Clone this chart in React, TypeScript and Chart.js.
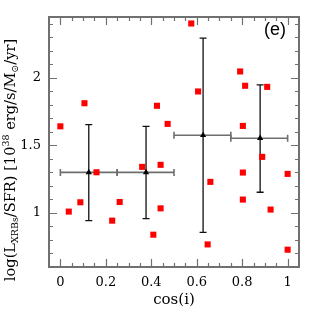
import React, { useEffect, useRef } from 'react';
import { Chart, registerables } from 'chart.js';

Chart.register(...registerables);

// Individual galaxies
const cosI = [0.0, 0.106, 0.425, 0.576, 0.791, 0.813, 0.91, 0.606, 0.472, 0.803, 0.888, 0.037, 0.088, 0.159, 0.228, 0.261, 0.36, 0.409, 0.441, 0.441, 0.66, 0.648, 0.803, 0.803, 0.925, 1.0, 1.0];
const logL = [1.641, 1.812, 1.793, 2.402, 2.047, 1.941, 1.933, 1.899, 1.659, 1.644, 1.415, 1.01, 1.079, 1.301, 0.943, 1.081, 1.341, 0.839, 1.356, 1.034, 1.23, 0.767, 1.299, 1.099, 1.025, 1.289, 0.728];

// Binned means
const binCenter = [0.125, 0.377, 0.628, 0.879];
const binLeft = [0.0, 0.25, 0.5, 0.75];
const binRight = [0.25, 0.5, 0.75, 1.0];
const binMean = [1.3, 1.3, 1.575, 1.553];
const binLow = [0.943, 0.958, 0.856, 1.153];
const binHigh = [1.654, 1.641, 2.293, 1.948];

const xTicks = [0, 0.2, 0.4, 0.6, 0.8, 1];
const yTicks = [1, 1.5, 2];

const panelLabel = '(e)';
const xTitle = 'cos(i)';
const yTitleParts: { t: string; s: 'n' | 'sub' | 'sup' }[] = [
  { t: 'log(L', s: 'n' },
  { t: 'XRBs', s: 'sub' },
  { t: '/SFR) [10', s: 'n' },
  { t: '38', s: 'sup' },
  { t: ' erg/s/M', s: 'n' },
  { t: '\u2299', s: 'sub' },
  { t: '/yr]', s: 'n' },
];

const SERIF = '"DejaVu Serif", "Liberation Serif", serif';

const decorPlugin = {
  id: 'decor',
  beforeDatasetsDraw(chart: any) {
    const ctx = chart.ctx;
    const xs = chart.scales.x;
    const ys = chart.scales.y;
    ctx.save();
    for (let i = 0; i < binCenter.length; i++) {
      const xl = xs.getPixelForValue(binLeft[i]);
      const xr = xs.getPixelForValue(binRight[i]);
      const ym = ys.getPixelForValue(binMean[i]);
      const xc = xs.getPixelForValue(binCenter[i]);
      const yl = ys.getPixelForValue(binLow[i]);
      const yh = ys.getPixelForValue(binHigh[i]);
      // horizontal bar
      ctx.strokeStyle = '#6e6e6e';
      ctx.lineWidth = 1.6;
      ctx.beginPath();
      ctx.moveTo(xl, ym);
      ctx.lineTo(xr, ym);
      ctx.moveTo(xl, ym - 3.5);
      ctx.lineTo(xl, ym + 3.5);
      ctx.moveTo(xr, ym - 3.5);
      ctx.lineTo(xr, ym + 3.5);
      ctx.stroke();
      // vertical bar
      ctx.strokeStyle = '#111111';
      ctx.lineWidth = 1.3;
      ctx.beginPath();
      ctx.moveTo(xc, yl);
      ctx.lineTo(xc, yh);
      ctx.moveTo(xc - 3.5, yl);
      ctx.lineTo(xc + 3.5, yl);
      ctx.moveTo(xc - 3.5, yh);
      ctx.lineTo(xc + 3.5, yh);
      ctx.stroke();
    }
    ctx.restore();
  },
  afterDraw(chart: any) {
    const ctx = chart.ctx;
    const xs = chart.scales.x;
    const ys = chart.scales.y;
    const a = chart.chartArea;
    ctx.save();
    // ticks on all four sides, inward
    ctx.strokeStyle = '#707070';
    ctx.lineWidth = 1.2;
    ctx.beginPath();
    for (let i = 0; i <= 20; i++) {
      const v = i * 0.05;
      const px = Math.round(xs.getPixelForValue(v)) + 0.5;
      const len = i % 4 === 0 ? 8 : 4;
      ctx.moveTo(px, a.bottom);
      ctx.lineTo(px, a.bottom - len);
      ctx.moveTo(px, a.top);
      ctx.lineTo(px, a.top + len);
    }
    for (let i = 7; i <= 24; i++) {
      const v = i / 10;
      const py = Math.round(ys.getPixelForValue(v)) + 0.5;
      const len = i % 5 === 0 ? 8 : 4;
      ctx.moveTo(a.left, py);
      ctx.lineTo(a.left + len, py);
      ctx.moveTo(a.right, py);
      ctx.lineTo(a.right - len, py);
    }
    ctx.stroke();
    // frame
    ctx.lineWidth = 2;
    ctx.strokeRect(a.left, a.top, a.right - a.left, a.bottom - a.top);

    // panel label
    ctx.fillStyle = '#000';
    ctx.font = '18px "Liberation Sans", Arial, sans-serif';
    ctx.textAlign = 'center';
    ctx.textBaseline = 'middle';
    ctx.fillText(panelLabel, 275, 30);

    // x title
    ctx.font = '15px ' + SERIF;
    ctx.textAlign = 'center';
    ctx.textBaseline = 'middle';
    ctx.fillText(xTitle, (a.left + a.right) / 2, 300);

    // y title (rich text, rotated)
    const big = 14.6;
    const small = 9.5;
    const fontFor = (s: string) => (s === 'n' ? big : small) + 'px ' + SERIF;
    let total = 0;
    for (const p of yTitleParts) {
      ctx.font = fontFor(p.s);
      total += ctx.measureText(p.t).width;
    }
    ctx.translate(14.5, 160);
    ctx.rotate(-Math.PI / 2);
    ctx.textAlign = 'left';
    ctx.textBaseline = 'alphabetic';
    let x = -total / 2;
    for (const p of yTitleParts) {
      ctx.font = fontFor(p.s);
      const dy = p.s === 'sub' ? 3 : p.s === 'sup' ? -5.5 : 0;
      ctx.fillText(p.t, x, dy);
      x += ctx.measureText(p.t).width;
    }
    ctx.restore();
  },
};

export default function App() {
  const ref = useRef<HTMLCanvasElement | null>(null);
  useEffect(() => {
    if (!ref.current) return;
    const chart = new Chart(ref.current, {
      type: 'scatter',
      data: {
        datasets: [
          {
            label: 'bins',
            data: binCenter.map((x, i) => ({ x, y: binMean[i] })),
            pointStyle: 'triangle',
            pointRadius: 3.6,
            pointBackgroundColor: '#000000',
            pointBorderColor: '#000000',
            pointBorderWidth: 0,
            order: 0,
          },
          {
            label: 'galaxies',
            data: cosI.map((x, i) => ({ x, y: logL[i] })),
            pointStyle: 'rect',
            pointRadius: 4.3,
            pointBackgroundColor: '#ff0000',
            pointBorderColor: '#ff0000',
            pointBorderWidth: 0,
            order: 1,
          },
        ],
      },
      options: {
        responsive: false,
        animation: false,
        events: [],
        layout: { padding: { left: 0, top: 17, right: 17, bottom: 0 } },
        plugins: { legend: { display: false }, tooltip: { enabled: false } },
        scales: {
          x: {
            type: 'linear',
            min: -0.05,
            max: 1.05,
            grid: { display: false, drawTicks: false },
            border: { display: false },
            afterBuildTicks: (s: any) => {
              s.ticks = xTicks.map((v) => ({ value: v }));
            },
            afterFit: (s: any) => {
              s.height = 49;
            },
            ticks: {
              padding: 8,
              color: '#000',
              font: { family: SERIF, size: 13 },
              maxRotation: 0,
              autoSkip: false,
              callback: (v: any) => String(Math.round(Number(v) * 10) / 10),
            },
          },
          y: {
            type: 'linear',
            min: 0.6,
            max: 2.45,
            grid: { display: false, drawTicks: false },
            border: { display: false },
            afterBuildTicks: (s: any) => {
              s.ticks = yTicks.map((v) => ({ value: v }));
            },
            afterFit: (s: any) => {
              s.width = 49;
            },
            ticks: {
              padding: 8,
              color: '#000',
              font: { family: SERIF, size: 13 },
              autoSkip: false,
              callback: (v: any) => String(Math.round(Number(v) * 10) / 10),
            },
          },
        },
      },
      plugins: [decorPlugin],
    });
    return () => chart.destroy();
  }, []);
  return (
    <div style={{ position: 'absolute', left: 0, top: 0, width: 316, height: 316, background: '#fff' }}>
      <canvas ref={ref} width={316} height={316} />
    </div>
  );
}
